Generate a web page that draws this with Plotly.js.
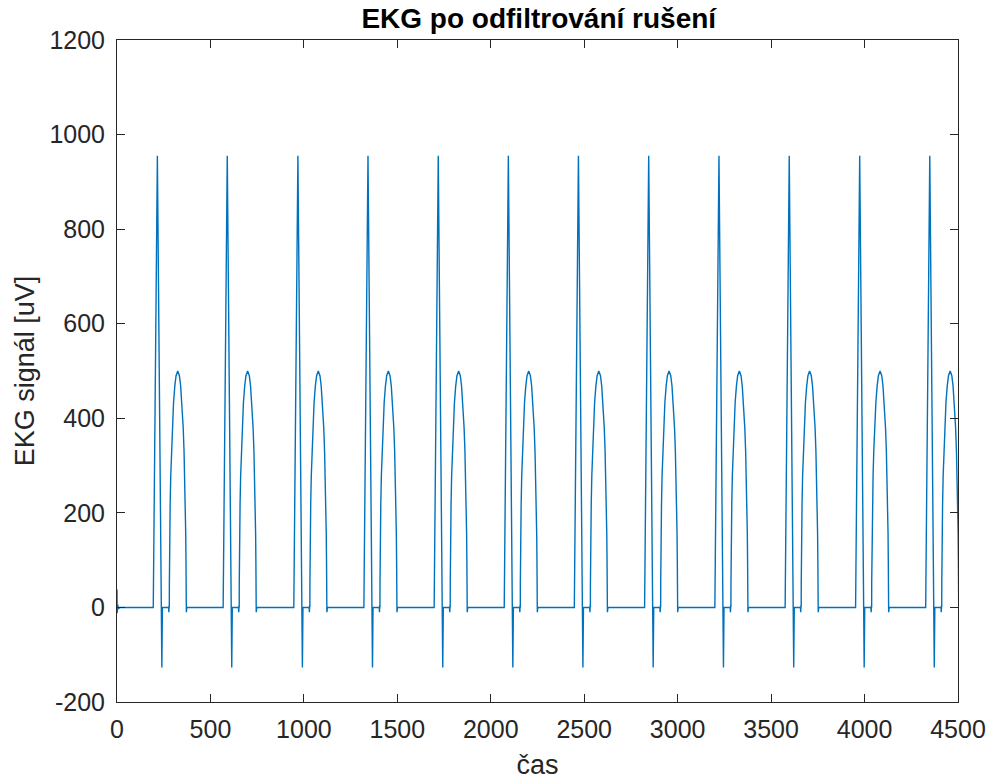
<!DOCTYPE html>
<html>
<head>
<meta charset="utf-8">
<script src="https://cdn.plot.ly/plotly-3.0.1.min.js"></script>
<style>html,body{margin:0;padding:0;background:#fff;}#chart{width:994px;height:781px;}</style>
</head>
<body>
<div id="chart"></div>
<script>
// R-peak positions (time units)
const rPeaks = [216, 590, 968, 1343, 1719, 2094, 2469, 2845, 3221, 3597, 3974, 4349];

// One heartbeat: offsets from the R peak and values [uV]
const beatOffsets = [-22, 0, 24, 27, 60, 61.5, 63, 64,
                     64.2, 64.9, 66.3, 68.5, 71.6, 75.3, 79.8, 86.5, 93.3, 100, 109,
                     118, 124.7, 131.5, 138.2, 142.7, 146.4, 149.5, 151.7, 153.1, 153.8, 154,
                     155, 156.5, 158];
const beatValues  = [0, 955, -127, 0, 0, -10, 5, 0,
                     50, 99, 156, 218, 279, 331, 380, 433, 468, 490, 500,
                     490, 468, 433, 380, 331, 279, 218, 156, 99, 50, 0,
                     -10, 5, 0];

// Start-up transient at the beginning of the record
const startTimes  = [0, 1, 4, 8, 15];
const startValues = [38, -12, 6, -3, 0];

const xTicks = [0, 500, 1000, 1500, 2000, 2500, 3000, 3500, 4000, 4500];
const yTicks = [-200, 0, 200, 400, 600, 800, 1000, 1200];

const tx = startTimes.slice();
const ty = startValues.slice();
rPeaks.forEach(p => {
  beatOffsets.forEach((o, i) => { tx.push(p + o); ty.push(beatValues[i]); });
});

const axisColor = '#262626';
const fam = 'Liberation Sans, Arial, Helvetica, sans-serif';
const font = {family: fam, size: 25, color: axisColor};

const trace = {
  x: tx, y: ty, type: 'scatter', mode: 'lines',
  line: {color: '#0072BD', width: 1.4},
  hoverinfo: 'x+y'
};

const layout = {
  width: 994, height: 781,
  paper_bgcolor: '#ffffff', plot_bgcolor: '#ffffff',
  margin: {l: 117, r: 36, t: 40, b: 79},
  showlegend: false,
  font: font,
  title: {text: '<b>EKG po odfiltrování rušení</b>', x: 0.542, xanchor: 'center', y: 0.977, yanchor: 'middle',
          font: {family: fam, size: 28, color: '#000'}},
  xaxis: {
    range: [0, 4500], tickvals: xTicks, ticktext: xTicks.map(String),
    showgrid: false, zeroline: false, showline: true, mirror: 'ticks',
    linecolor: axisColor, linewidth: 1, ticks: 'inside', ticklen: 8, tickcolor: axisColor, tickwidth: 1,
    tickfont: font, ticklabelstandoff: 5,
    title: {text: 'čas', font: {family: fam, size: 27, color: axisColor}, standoff: 13}
  },
  yaxis: {
    range: [-200, 1200], tickvals: yTicks, ticktext: yTicks.map(String),
    showgrid: false, zeroline: false, showline: true, mirror: 'ticks',
    linecolor: axisColor, linewidth: 1, ticks: 'inside', ticklen: 8, tickcolor: axisColor, tickwidth: 1,
    tickfont: font, ticklabelstandoff: 6,
    title: {text: 'EKG signál [uV]', font: {family: fam, size: 27, color: axisColor}, standoff: 6}
  }
};

Plotly.newPlot('chart', [trace], layout, {displayModeBar: false});
</script>
</body>
</html>
